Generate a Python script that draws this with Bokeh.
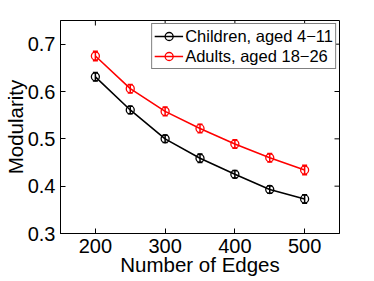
import math
from bokeh.plotting import figure
from bokeh.models import ColumnDataSource, Whisker, TeeHead, FixedTicker, Legend, LegendItem, Range1d
from bokeh.embed import file_html
from bokeh.resources import INLINE

edges = [200, 250, 300, 350, 400, 450, 500]
children = [0.631, 0.561, 0.500, 0.459, 0.425, 0.393, 0.373]
adults = [0.675, 0.606, 0.558, 0.522, 0.489, 0.460, 0.434]
children_err = [0.009, 0.008, 0.008, 0.009, 0.008, 0.008, 0.009]
adults_err = [0.010, 0.009, 0.009, 0.009, 0.009, 0.009, 0.010]
x_ticks = [200, 300, 400, 500]
y_ticks = [0.3, 0.4, 0.5, 0.6, 0.7]
series_names = ["Children, aged 4\u221211", "Adults, aged 18\u221226"]
series_colors = ["black", "red"]

FONT = "Liberation Sans"
X0, X1, Y0, Y1 = 150, 550, 0.3, 0.75

p = figure(frame_width=279, frame_height=213, output_backend="svg", toolbar_location=None,
           x_range=Range1d(X0, X1), y_range=Range1d(Y0, Y1),
           min_border_left=52, min_border_top=20, min_border_right=19, min_border_bottom=0)
p.background_fill_color = "white"
p.border_fill_color = "white"
p.outline_line_color = "black"
p.outline_line_width = 1
p.grid.visible = False

for ax in [p.xaxis[0], p.yaxis[0]]:
    ax.major_tick_in = 5
    ax.major_tick_out = 0
    ax.minor_tick_line_color = None
    ax.axis_line_color = "black"
    ax.major_label_text_font = FONT
    ax.major_label_text_font_size = "20px"
    ax.major_label_text_color = "black"
    ax.axis_label_text_font = FONT
    ax.axis_label_text_font_size = "20.5px"
    ax.axis_label_text_font_style = "normal"
    ax.axis_label_text_color = "black"

p.xaxis[0].ticker = FixedTicker(ticks=x_ticks)
p.yaxis[0].ticker = FixedTicker(ticks=y_ticks)
p.xaxis[0].axis_label = "Number of Edges"
p.yaxis[0].axis_label = "Modularity"
p.xaxis[0].major_label_standoff = 5
p.yaxis[0].major_label_standoff = 5
p.xaxis[0].axis_label_standoff = -3
p.yaxis[0].axis_label_standoff = -2

# inward ticks on top and right edges (box), clipped to the frame
p.scatter(x=x_ticks, y=[Y1] * len(x_ticks), marker="dash", angle=math.pi / 2, size=10,
          line_color="black", line_width=1)
p.scatter(x=[X1] * len(y_ticks), y=y_ticks, marker="dash", size=10,
          line_color="black", line_width=1)

items = []
for vals, errs, name, col in [(children, children_err, series_names[0], series_colors[0]),
                              (adults, adults_err, series_names[1], series_colors[1])]:
    src = ColumnDataSource(dict(x=edges, y=vals,
                                lo=[v - e for v, e in zip(vals, errs)],
                                hi=[v + e for v, e in zip(vals, errs)]))
    ln = p.line("x", "y", source=src, line_color=col, line_width=1.6)
    sc = p.scatter("x", "y", source=src, marker="circle", size=8, fill_color=None,
                   line_color=col, line_width=1.3)
    w = Whisker(base="x", lower="lo", upper="hi", source=src, line_color=col, line_width=1.5,
                upper_head=TeeHead(size=5, line_color=col, line_width=1.5),
                lower_head=TeeHead(size=5, line_color=col, line_width=1.5))
    p.add_layout(w)
    items.append(LegendItem(label=name, renderers=[ln, sc]))

legend = Legend(items=items, location="top_right")
legend.label_text_font = FONT
legend.label_text_font_size = "16.5px"
legend.label_text_color = "black"
legend.border_line_color = "black"
legend.border_line_width = 1
legend.background_fill_alpha = 1
legend.margin = 3
legend.padding = 2
legend.spacing = 0
legend.label_height = 20
legend.glyph_height = 20
legend.glyph_width = 29
legend.label_standoff = 2
legend.label_text_baseline = "middle"
p.add_layout(legend)

open("out.html", "w").write(file_html(p, INLINE))
